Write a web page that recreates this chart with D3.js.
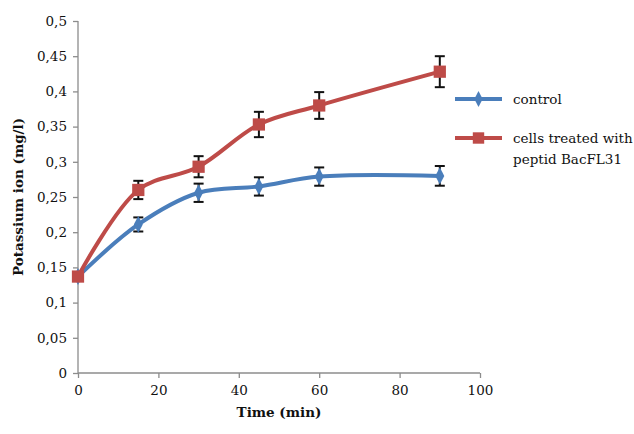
<!DOCTYPE html>
<meta charset="utf-8">
<script src="https://d3js.org/d3.v7.min.js"></script>
<style>
  body { margin: 0; background: #fff; }
</style>
<div id="chart"></div>
<script>
// data
var times = [0, 15, 30, 45, 60, 90];
var controlVals = [0.137, 0.211, 0.256, 0.265, 0.279, 0.280];
var controlErr = [0, 0.010, 0.013, 0.013, 0.013, 0.014];
var treatedVals = [0.137, 0.260, 0.293, 0.353, 0.380, 0.428];
var treatedErr = [0, 0.013, 0.015, 0.018, 0.019, 0.022];
var yTicks = [0, 0.05, 0.1, 0.15, 0.2, 0.25, 0.3, 0.35, 0.4, 0.45, 0.5];
var xTicks = [0, 20, 40, 60, 80, 100];
var seriesNames = ["control", "cells treated with|peptid BacFL31"];

var W = 634, H = 434;
var margin = {top: 21, left: 78, right: 154, bottom: 61};
var serif = "DejaVu Serif";

var svg = d3.select("#chart").append("svg")
  .attr("width", W).attr("height", H)
  .attr("font-family", serif);

var x = d3.scaleLinear().domain([0, 100]).range([margin.left, W - margin.right]);
var y = d3.scaleLinear().domain([0, 0.5]).range([H - margin.bottom, margin.top]);

var fmt = function(d) { return String(+d.toFixed(2)).replace(".", ","); };

// axes
var xAxis = svg.append("g")
  .attr("transform", "translate(0," + y(0) + ")")
  .call(d3.axisBottom(x).tickValues(xTicks).tickSize(5).tickPadding(7));
var yAxis = svg.append("g")
  .attr("transform", "translate(" + x(0) + ",0)")
  .call(d3.axisLeft(y).tickValues(yTicks).tickFormat(fmt).tickSize(5).tickPadding(6));
[xAxis, yAxis].forEach(function(a) {
  a.attr("font-family", serif).attr("font-size", 13.5);
  a.selectAll("path, line").attr("stroke", "#8c8c8c").attr("stroke-width", 1.3);
  a.select(".domain").attr("d", a === xAxis
    ? "M" + x(0) + ",0H" + x(100)
    : "M0," + y(0) + "V" + y(0.5));
  a.selectAll("text").attr("fill", "#111");
});

// axis titles
svg.append("text")
  .attr("x", (x(0) + x(100)) / 2).attr("y", 417)
  .attr("text-anchor", "middle")
  .attr("font-size", 13.5).attr("font-weight", "bold").attr("fill", "#111")
  .text("Time (min)");
svg.append("text")
  .attr("transform", "translate(23," + (y(0.25)) + ") rotate(-90)")
  .attr("text-anchor", "middle")
  .attr("font-size", 13.5).attr("font-weight", "bold").attr("fill", "#111")
  .text("Potassium ion (mg/l)");

var line = d3.line()
  .x(function(d) { return x(d[0]); })
  .y(function(d) { return y(d[1]); })
  .curve(d3.curveCatmullRom.alpha(0.5));

function drawSeries(vals, errs, color, shape) {
  var pts = times.map(function(t, i) { return [t, vals[i], errs[i]]; });
  svg.append("path").datum(pts)
    .attr("d", line)
    .attr("fill", "none").attr("stroke", color).attr("stroke-width", 4)
    .attr("stroke-linejoin", "round");
  var eb = svg.append("g").selectAll("g")
    .data(pts.filter(function(d) { return d[2] > 0; }))
    .enter().append("g");
  eb.append("line")
    .attr("x1", function(d) { return x(d[0]); }).attr("x2", function(d) { return x(d[0]); })
    .attr("y1", function(d) { return y(d[1] - d[2]); }).attr("y2", function(d) { return y(d[1] + d[2]); })
    .attr("stroke", "#111").attr("stroke-width", 2);
  [-1, 1].forEach(function(s) {
    eb.append("line")
      .attr("x1", function(d) { return x(d[0]) - 5; }).attr("x2", function(d) { return x(d[0]) + 5; })
      .attr("y1", function(d) { return y(d[1] + s * d[2]); }).attr("y2", function(d) { return y(d[1] + s * d[2]); })
      .attr("stroke", "#111").attr("stroke-width", 2);
  });
  svg.append("g").selectAll("path")
    .data(pts).enter().append("path")
    .attr("d", d3.symbol().type(shape).size(shape === d3.symbolSquare ? 150 : 70))
    .attr("transform", function(d) {
      return "translate(" + x(d[0]) + "," + y(d[1]) + ")" + (shape === d3.symbolDiamond ? " scale(1,1.1)" : "");
    })
    .attr("fill", color);
}

drawSeries(controlVals, controlErr, "#4a7ebb", d3.symbolDiamond);
drawSeries(treatedVals, treatedErr, "#be4b48", d3.symbolSquare);

// legend
var legend = [
  {name: seriesNames[0], color: "#4a7ebb", shape: d3.symbolDiamond, y: 99},
  {name: seriesNames[1], color: "#be4b48", shape: d3.symbolSquare, y: 138}
];
legend.forEach(function(l) {
  svg.append("line").attr("x1", 455).attr("x2", 502).attr("y1", l.y).attr("y2", l.y)
    .attr("stroke", l.color).attr("stroke-width", 4);
  svg.append("path")
    .attr("d", d3.symbol().type(l.shape).size(l.shape === d3.symbolSquare ? 130 : 60))
    .attr("transform", "translate(478.5," + l.y + ")" + (l.shape === d3.symbolDiamond ? " scale(1,1.1)" : ""))
    .attr("fill", l.color);
  var t = svg.append("text").attr("x", 513).attr("y", l.y + 5).attr("font-size", 13.5).attr("fill", "#111");
  l.name.split("|").forEach(function(s, i) {
    t.append("tspan").attr("x", 513).attr("dy", i === 0 ? 0 : 21).text(s);
  });
});
</script>
